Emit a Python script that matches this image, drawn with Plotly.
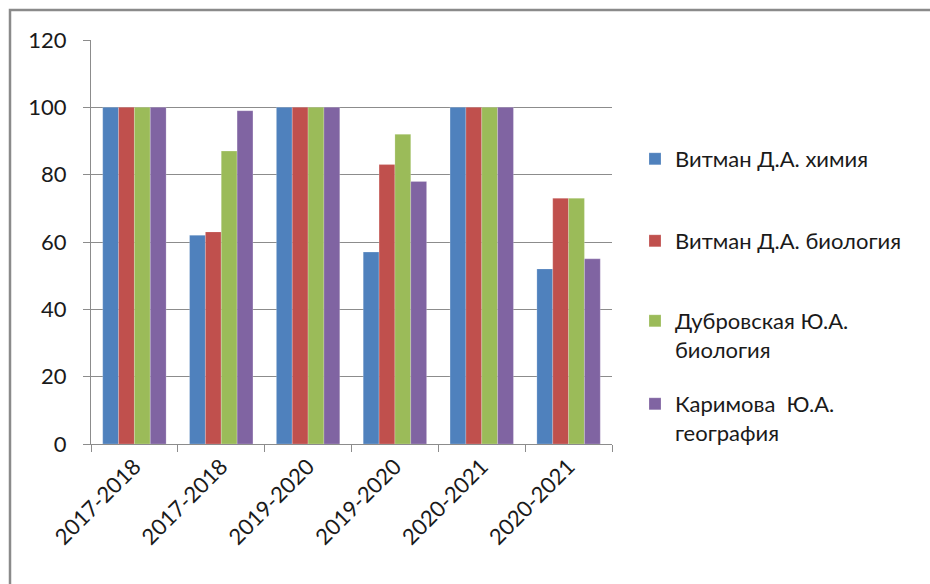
import plotly.graph_objects as go

categories = ["2017-2018", "2017-2018", "2019-2020", "2019-2020", "2020-2021", "2020-2021"]
series_names = [
    "Витман Д.А. химия",
    "Витман Д.А. биология",
    "Дубровская Ю.А.<br>биология",
    "Каримова  Ю.А.<br>география",
]
vitman_chem = [100, 62, 100, 57, 100, 52]
vitman_bio = [100, 63, 100, 83, 100, 73]
dubrovskaya_bio = [100, 87, 100, 92, 100, 73]
karimova_geo = [100, 99, 100, 78, 100, 55]
y_ticks = [0, 20, 40, 60, 80, 100, 120]

colors = ["#4F81BD", "#C0504D", "#9BBB59", "#8064A2"]
series_values = [vitman_chem, vitman_bio, dubrovskaya_bio, karimova_geo]

FONT = "Lato, 'Open Sans', sans-serif"
FS = 22
W, H = 930, 584
L, R, T, B = 91, 318, 40, 140
pw, ph = W - L - R, H - T - B

def px_x(px):
    return (px - L) / pw

def px_y(py):
    return (H - B - py) / ph

xpos = list(range(len(categories)))
fig = go.Figure()
legend_ids = ["legend", "legend2", "legend3", "legend4"]
for name, vals, col, lg in zip(series_names, series_values, colors, legend_ids):
    fig.add_trace(go.Bar(
        x=xpos, y=vals, name=name, legend=lg,
        marker=dict(color=col, line=dict(color="rgba(255,255,255,0.35)", width=0.6)),
    ))

legend_tops = [138, 220, 300, 383]
layout_legends = {}
for lg, top in zip(legend_ids, legend_tops):
    layout_legends[lg] = dict(
        x=px_x(635), y=px_y(top), xanchor="left", yanchor="top",
        font=dict(family=FONT, size=FS, color="#1a1a1a"),
        bgcolor="rgba(0,0,0,0)", valign="top", itemwidth=30,
        tracegroupgap=0,
    )

fig.update_layout(
    width=W, height=H,
    margin=dict(l=L, r=R, t=T, b=B),
    paper_bgcolor="white", plot_bgcolor="white",
    barmode="group", bargap=0.27, bargroupgap=0,
    font=dict(family=FONT, size=FS, color="#1a1a1a"),
    showlegend=True,
    **layout_legends,
    shapes=[dict(
        type="rect", xref="paper", yref="paper",
        x0=px_x(10), x1=px_x(960), y0=px_y(620), y1=px_y(10),
        line=dict(color="#8a8a8a", width=2.5), fillcolor="rgba(0,0,0,0)", layer="below",
    )],
)

fig.update_xaxes(
    range=[-0.5, len(categories) - 0.5],
    tickmode="array", tickvals=xpos, ticktext=categories, tickangle=-45,
    ticks="", showgrid=False, zeroline=False,
    showline=True, linecolor="#8c8c8c", linewidth=1,
    tickfont=dict(family=FONT, size=FS, color="#1a1a1a"),
    minor=dict(tickmode="array", tickvals=[i - 0.5 for i in range(len(categories) + 1)],
               ticks="outside", ticklen=7, tickcolor="#8c8c8c", showgrid=False),
)
fig.update_yaxes(
    range=[0, 120], tickmode="array", tickvals=y_ticks,
    ticks="outside", ticklen=7, tickcolor="#8c8c8c", ticklabelstandoff=12,
    showgrid=True, gridcolor="#8c8c8c", gridwidth=1,
    zeroline=False, showline=True, linecolor="#8c8c8c", linewidth=1,
    tickfont=dict(family=FONT, size=FS, color="#1a1a1a"),
)

fig.write_html("out.html", config={"displayModeBar": False},
               post_script="document.body.style.margin='0';")
